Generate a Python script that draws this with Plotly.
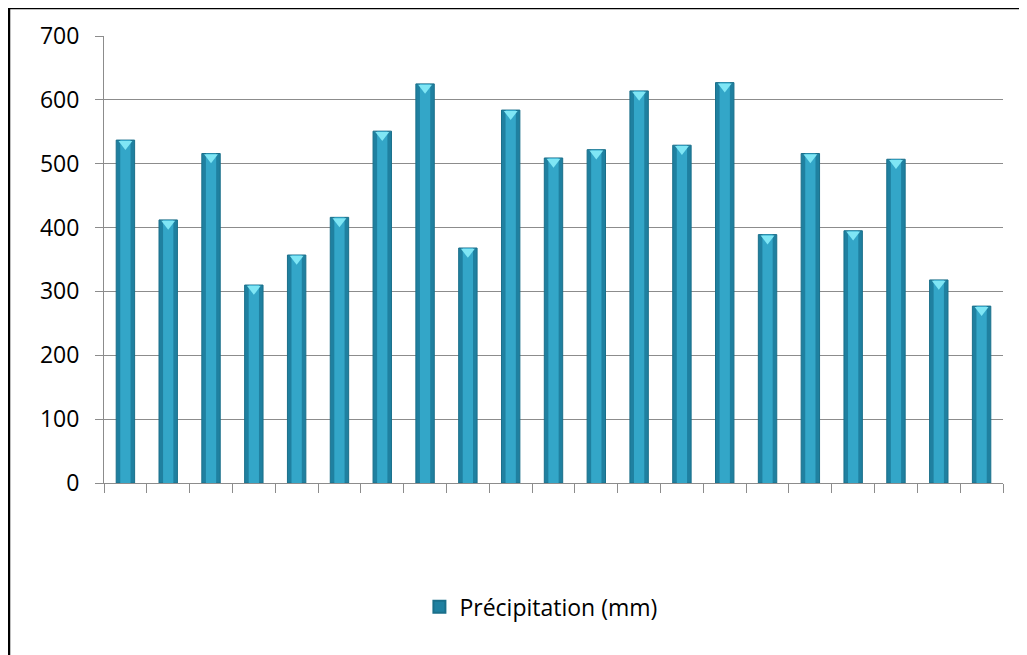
import plotly.graph_objects as go

categories = [str(i) for i in range(1, 22)]
precip = [537, 412, 516, 310, 357, 416, 551, 625, 368, 584, 509,
          522, 614, 529, 627, 389, 516, 395, 507, 318, 277]
y_ticks = [0, 100, 200, 300, 400, 500, 600, 700]
series_name = "Précipitation (mm)"

# page has an 8px body margin, so the figure starts at (8, 8)
W, H = 1019, 647
ML, MR, MT, MB = 96, 24, 28, 172
pw, ph = W - ML - MR, H - MT - MB

fig = go.Figure()
fig.add_trace(go.Bar(x=categories, y=precip, name=series_name, width=0.43,
                     marker=dict(color="#1F80A0", line=dict(color="#1A6F8A", width=1)),
                     showlegend=True))
fig.add_trace(go.Bar(x=categories, y=precip, width=0.24, showlegend=False,
                     marker=dict(color="#33A6C8", line=dict(width=0)), hoverinfo="skip"))
fig.add_trace(go.Scatter(x=categories, y=[v - 6 for v in precip], mode="markers",
                         showlegend=False, hoverinfo="skip",
                         marker=dict(symbol="triangle-down", size=12, color="#7FE6F5",
                                     line=dict(width=0))))

# outer frame: left and top edges
fig.add_shape(type="line", xref="paper", yref="paper",
              x0=(1 - ML) / pw, x1=(1 - ML) / pw, y0=-(MB + 10) / ph, y1=1 + (MT - 0) / ph,
              line=dict(color="black", width=2.5))
fig.add_shape(type="line", xref="paper", yref="paper",
              x0=(1 - ML) / pw, x1=1 + (MR + 10) / pw, y0=1 + (MT - 0) / ph, y1=1 + (MT - 0) / ph,
              line=dict(color="black", width=2.5))

fig.update_layout(
    width=W, height=H,
    margin=dict(l=ML, r=MR, t=MT, b=MB),
    paper_bgcolor="white", plot_bgcolor="white",
    barmode="overlay",
    font=dict(family="Open Sans", size=23, color="black"),
    showlegend=True,
    legend=dict(orientation="h", x=0.486, xanchor="center", y=-0.277, yanchor="middle",
                font=dict(size=23), itemsizing="constant"),
    xaxis=dict(showticklabels=False, ticks="outside", tickson="boundaries", ticklen=9,
               tickcolor="#8C8C8C", showline=True, linecolor="#8C8C8C", linewidth=1,
               showgrid=False, zeroline=False, range=[-0.5, 20.5]),
    yaxis=dict(range=[0, 700], tickvals=y_ticks, ticks="outside", ticklen=8,
               tickcolor="#8C8C8C", showline=True, linecolor="#8C8C8C", linewidth=1,
               showgrid=True, gridcolor="#8C8C8C", gridwidth=1, zeroline=False,
               tickfont=dict(size=23), ticklabelstandoff=11),
)

fig.write_html("out.html")
